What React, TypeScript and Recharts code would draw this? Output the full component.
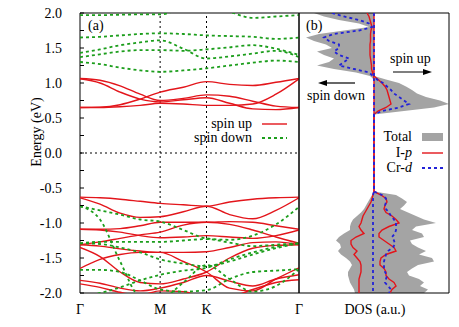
import React from "react";
import {
  LineChart,
  Line,
  ComposedChart,
  Area,
  XAxis,
  YAxis,
  ReferenceLine,
  ReferenceArea,
} from "recharts";

const FONT = "Liberation Serif, DejaVu Serif, Times New Roman, serif";
const RED = "#e3151b";
const GREEN = "#1c9e1c";
const BLUE = "#2222d8";
const GRAY = "#a4a4a4";

// k-path Γ–M–K–Γ (hexagonal zone, Γ-M = 1/√3, M-K = 1/3, K-Γ = 2/3)
const kPoints = [0, 0.144, 0.289, 0.433, 0.577, 0.744, 0.911, 1.077, 1.244, 1.411, 1.577];
const kTicks = [0, 0.577, 0.911, 1.577];
const kLabels = ["Γ", "M", "K", "Γ"];
const energyTicks = [-2, -1.75, -1.5, -1.25, -1, -0.75, -0.5, -0.25, 0, 0.25, 0.5, 0.75, 1, 1.25, 1.5, 1.75, 2];

// spin up bands (eV)
const upC1 = [0.65, 0.655, 0.69, 0.77, 0.87, 0.94, 1.02, 0.98, 0.965, 1.01, 1.065];
const upC2 = [1.065, 1.04, 0.96, 0.84, 0.75, 0.78, 0.83, 0.81, 0.74, 0.67, 0.65];
const upC3 = [1.06, 1.0, 0.87, 0.77, 0.73, 0.76, 0.79, 0.71, 0.63, 0.62, 0.65];
const upC4 = [0.65, 0.65, 0.66, 0.68, 0.71, 0.7, 0.68, 0.68, 0.7, 0.84, 1.06];
const upV1 = [-0.63, -0.64, -0.66, -0.69, -0.72, -0.74, -0.76, -0.7, -0.66, -0.64, -0.63];
const upV2 = [-0.64, -0.73, -0.86, -0.92, -0.91, -0.84, -0.76, -0.88, -0.94, -0.82, -0.64];
const upV3 = [-1.09, -1.09, -1.08, -1.04, -0.99, -0.99, -0.99, -0.98, -0.99, -1.04, -1.09];
const upV4 = [-1.09, -1.1, -1.13, -1.18, -1.21, -1.2, -1.18, -1.2, -1.22, -1.18, -1.1];
const upV5 = [-1.35, -1.48, -1.7, -1.85, -1.87, -1.8, -1.7, -1.5, -1.36, -1.32, -1.31];
const upV6 = [-1.31, -1.27, -1.22, -1.17, -1.13, -1.03, -0.99, -1.02, -1.1, -1.2, -1.29];
const upV7 = [-1.65, -1.52, -1.45, -1.42, -1.42, -1.55, -1.7, -1.93, -1.97, -1.8, -1.64];
const upV8 = [-1.82, -1.86, -1.93, -1.97, -1.93, -1.85, -1.75, -1.83, -1.9, -1.8, -1.74];
const upV9 = [-1.87, -1.92, -1.99, -2.03, -1.97, -1.98, -2.06, -2.05, -1.95, -1.85, -1.81];
const upV10 = [-1.31, -1.33, -1.37, -1.4, -1.42, -1.42, -1.41, -1.35, -1.28, -1.27, -1.31];

// spin down bands (eV)
const dnC1 = [1.3, 1.27, 1.22, 1.18, 1.16, 1.18, 1.21, 1.25, 1.29, 1.32, 1.3];
const dnC2 = [1.37, 1.41, 1.45, 1.47, 1.47, 1.46, 1.48, 1.51, 1.54, 1.49, 1.4];
const dnC3 = [1.43, 1.48, 1.54, 1.58, 1.61, 1.49, 1.35, 1.38, 1.42, 1.46, 1.37];
const dnC4 = [1.65, 1.66, 1.68, 1.7, 1.71, 1.7, 1.68, 1.67, 1.66, 1.63, 1.65];
const dnC5 = [1.97, 1.97, 1.975, 1.98, 1.98, 2.08, 2.15, 2.02, 1.93, 1.95, 1.97];
const dnV1 = [-0.76, -0.82, -0.88, -0.95, -0.98, -1.1, -1.22, -1.24, -1.18, -1.02, -0.77];
const dnV2 = [-0.76, -0.95, -1.55, -2.05, -2.08, -1.85, -1.6, -1.8, -1.98, -1.9, -1.66];
const dnV3 = [-1.29, -1.3, -1.35, -1.42, -1.52, -1.58, -1.62, -1.55, -1.45, -1.36, -1.29];
const dnV4 = [-1.29, -1.27, -1.27, -1.27, -1.27, -1.25, -1.23, -1.28, -1.33, -1.31, -1.29];
const dnV5 = [-1.67, -1.67, -1.7, -1.82, -1.95, -1.98, -1.96, -1.8, -1.7, -1.68, -1.66];
const dnV6 = [-2.05, -2.0, -1.92, -1.82, -1.74, -1.68, -1.64, -1.52, -1.42, -1.34, -1.29];

const upBands = [upC1, upC2, upC3, upC4, upV1, upV2, upV3, upV4, upV5, upV6, upV7, upV8, upV9, upV10];
const dnBands = [dnC1, dnC2, dnC3, dnC4, dnC5, dnV1, dnV2, dnV3, dnV4, dnV5, dnV6];

// DOS grid, 2.0 eV down to -2.0 eV
const dosEnergy = [
  2.0, 1.95, 1.9, 1.85, 1.8, 1.75, 1.7, 1.65, 1.6, 1.55,
  1.5, 1.45, 1.4, 1.35, 1.3, 1.25, 1.2, 1.15, 1.1, 1.05,
  1.0, 0.95, 0.9, 0.85, 0.8, 0.75, 0.7, 0.65, 0.6, 0.55,
  0.5, 0.45, 0.4, 0.35, 0.3, 0.25, 0.2, 0.15, 0.1, 0.05,
  0.0, -0.05, -0.1, -0.15, -0.2, -0.25, -0.3, -0.35, -0.4, -0.45,
  -0.5, -0.55, -0.6, -0.65, -0.7, -0.75, -0.8, -0.85, -0.9, -0.95,
  -1.0, -1.05, -1.1, -1.15, -1.2, -1.25, -1.3, -1.35, -1.4, -1.45,
  -1.5, -1.55, -1.6, -1.65, -1.7, -1.75, -1.8, -1.85, -1.9, -1.95,
  -2.0,
];
const totalUp = [
  0, 0, 0, 0, 0, 0, 0, 0, 0, 0,
  0, 0, 0, 0, 0, 0, 0, 0, 0, 12,
  25, 32, 38, 43, 52, 66, 75, 60, 30, 0,
  0, 0, 0, 0, 0, 0, 0, 0, 0, 0,
  0, 0, 0, 0, 0, 0, 0, 0, 0, 0,
  0, 0, 22, 28, 33, 30, 26, 34, 42, 50,
  62, 42, 38, 48, 50, 36, 38, 44, 52, 45,
  58, 60, 44, 38, 33, 35, 45, 50, 46, 54,
  50,
];
const totalDown = [
  -60, -50, -35, -15, -5, -30, -55, -68, -60, -48,
  -42, -57, -50, -40, -45, -57, -40, -18, -4, 0,
  0, 0, 0, 0, 0, 0, 0, 0, 0, 0,
  0, 0, 0, 0, 0, 0, 0, 0, 0, 0,
  0, 0, 0, 0, 0, 0, 0, 0, 0, 0,
  0, 0, -2, -4, -6, -8, -10, -13, -17, -21,
  -23, -24, -24, -30, -35, -38, -34, -33, -36, -33,
  -28, -24, -22, -24, -26, -26, -25, -24, -22, -20,
  -19,
];
const ipUp = [
  0, 0, 0, 0, 0, 0, 0, 0, 0, 0,
  0, 0, 0, 0, 0, 0, 0, 0, 0, 4,
  8, 11, 13, 14, 15, 16, 17, 12, 4, 0,
  0, 0, 0, 0, 0, 0, 0, 0, 0, 0,
  0, 0, 0, 0, 0, 0, 0, 0, 0, 0,
  0, 0, 7, 12, 13, 11, 10, 12, 18, 22,
  25, 15, 8, 5, 5, 10, 15, 20, 22, 12,
  7, 6, 6, 10, 12, 12, 15, 20, 22, 18,
  16,
];
const ipDown = [
  -7, -5, -4, -3, -2, -3, -3.5, -3.5, -3.5, -4,
  -4, -4, -4, -3.5, -3, -2.5, -2.5, -1.5, -0.5, 0,
  0, 0, 0, 0, 0, 0, 0, 0, 0, 0,
  0, 0, 0, 0, 0, 0, 0, 0, 0, 0,
  0, 0, 0, 0, 0, 0, 0, 0, 0, 0,
  0, 0, -1, -2, -3, -5, -7, -9, -11, -12,
  -13, -15, -13, -10, -18, -23, -23, -21, -17, -20,
  -17, -14, -13, -13, -13, -14, -15, -15, -15, -15,
  -15,
];
const crdUp = [
  0, 0, 0, 0, 0, 0, 0, 0, 0, 0,
  0, 0, 0, 0, 0, 0, 0, 0, 0, 3,
  9, 13, 17, 20, 25, 30, 35, 25, 8, 0,
  0, 0, 0, 0, 0, 0, 0, 0, 0, 0,
  0, 0, 0, 0, 0, 0, 0, 0, 0, 0,
  0, 0, 8, 12, 12, 11, 12, 15, 17, 20,
  22, 22, 22, 21, 18, 20, 21, 19, 14, 12,
  11, 10, 10, 10, 11, 13, 12, 11, 14, 17,
  15,
];
const crdDown = [
  -42, -30, -15, -5, -2, -15, -40, -50, -45, -35,
  -35, -40, -35, -25, -30, -35, -20, -5, -1, 0,
  0, 0, 0, 0, 0, 0, 0, 0, 0, 0,
  0, 0, 0, 0, 0, 0, 0, 0, 0, 0,
  0, 0, 0, 0, 0, 0, 0, 0, 0, 0,
  0, 0, -1, -1, -1, -1, -1, -1, -1, -1,
  -1, -1, -1, -1, -1, -1, -1, -1, -1, -1,
  -1, -1, -1, -1, -1, -1, -1, -1, -1, -1,
  -1,
];

const bandRows = kPoints.map((k, i) => {
  const row: Record<string, number> = { k };
  upBands.forEach((b, j) => (row[`u${j}`] = b[i]));
  dnBands.forEach((b, j) => (row[`d${j}`] = b[i]));
  return row;
});

const dosRows = dosEnergy.map((e, i) => ({
  e,
  totUp: totalUp[i],
  totDn: totalDown[i],
  ipUp: ipUp[i],
  ipDn: ipDown[i],
  crdUp: crdUp[i],
  crdDn: crdDown[i],
}));

const tickStyle = { fill: "#000", fontSize: 14, fontFamily: FONT };
const fmtE = (v: number) => (Math.round(v * 4) % 2 === 0 ? v.toFixed(1) : "");

function BandPanel() {
  return (
    <LineChart
      width={320}
      height={327}
      data={bandRows}
      margin={{ top: 13, right: 20, bottom: 14, left: 0 }}
      style={{ position: "absolute", left: 0, top: 0 }}
    >
      <XAxis
        dataKey="k"
        type="number"
        domain={[0, 1.577]}
        allowDataOverflow
        ticks={kTicks}
        interval={0}
        tickFormatter={(v) => kLabels[kTicks.indexOf(v)]}
        axisLine={false}
        tickLine={false}
        tickSize={0}
        tickMargin={11}
        height={20}
        tick={tickStyle}
      />
      <YAxis
        type="number"
        domain={[-2, 2]}
        allowDataOverflow
        ticks={energyTicks}
        interval={0}
        tickFormatter={fmtE}
        width={80}
        axisLine={false}
        tickSize={-4}
        tickMargin={22}
        tickLine={{ stroke: "#000" }}
        tick={tickStyle}
      />
      <YAxis
        yAxisId="r"
        orientation="right"
        type="number"
        domain={[-2, 2]}
        allowDataOverflow
        ticks={energyTicks}
        interval={0}
        width={1}
        axisLine={false}
        tick={false}
        tickSize={-4}
        tickLine={{ stroke: "#000" }}
      />
      <ReferenceLine x={0.577} stroke="#000" strokeDasharray="2 3" />
      <ReferenceLine x={0.911} stroke="#000" strokeDasharray="2 3" />
      <ReferenceLine y={0} stroke="#000" strokeDasharray="2 3" />
      {upBands.map((_, j) => (
        <Line
          key={`u${j}`}
          dataKey={`u${j}`}
          type="monotone"
          stroke={RED}
          strokeWidth={1.4}
          dot={false}
          isAnimationActive={false}
        />
      ))}
      {dnBands.map((_, j) => (
        <Line
          key={`d${j}`}
          dataKey={`d${j}`}
          type="monotone"
          stroke={GREEN}
          strokeWidth={1.8}
          strokeDasharray="3 3"
          dot={false}
          isAnimationActive={false}
        />
      ))}
      <ReferenceArea x1={0} x2={1.577} y1={-2} y2={2} fill="none" stroke="#000" ifOverflow="visible" />
    </LineChart>
  );
}

function DosPanel() {
  return (
    <ComposedChart
      layout="vertical"
      width={160}
      height={327}
      data={dosRows}
      margin={{ top: 13, right: 8, bottom: 34, left: 0 }}
      style={{ position: "absolute", left: 298, top: 0 }}
    >
      <XAxis type="number" domain={[-75, 75]} allowDataOverflow hide />
      <YAxis
        dataKey="e"
        type="number"
        reversed
        domain={[-2, 2]}
        allowDataOverflow
        ticks={energyTicks}
        interval={0}
        width={1}
        axisLine={false}
        tick={false}
        tickSize={-4}
        tickLine={{ stroke: "#000" }}
      />
      <YAxis
        yAxisId="r"
        orientation="right"
        type="number"
        reversed
        domain={[-2, 2]}
        allowDataOverflow
        ticks={energyTicks}
        interval={0}
        width={1}
        axisLine={false}
        tick={false}
        tickSize={-4}
        tickLine={{ stroke: "#000" }}
      />
      <Area dataKey="totUp" type="linear" fill={GRAY} fillOpacity={1} stroke="none" isAnimationActive={false} />
      <Area dataKey="totDn" type="linear" fill={GRAY} fillOpacity={1} stroke="none" isAnimationActive={false} />
      <Line dataKey="ipDn" type="linear" stroke={RED} strokeWidth={1.4} dot={false} isAnimationActive={false} />
      <Line dataKey="ipUp" type="linear" stroke={RED} strokeWidth={1.4} dot={false} isAnimationActive={false} />
      <Line dataKey="crdDn" type="linear" stroke={BLUE} strokeWidth={1.8} strokeDasharray="3 3" dot={false} isAnimationActive={false} />
      <Line dataKey="crdUp" type="linear" stroke={BLUE} strokeWidth={1.8} strokeDasharray="3 3" dot={false} isAnimationActive={false} />
      <ReferenceArea x1={-75} x2={75} y1={-2} y2={2} fill="none" stroke="#000" ifOverflow="visible" />
    </ComposedChart>
  );
}

function Arrow({ x1, x2, y }: { x1: number; x2: number; y: number }) {
  const dir = x2 > x1 ? 1 : -1;
  return (
    <g>
      <line x1={x1} y1={y} x2={x2 - dir * 6} y2={y} stroke="#000" strokeWidth={1.2} />
      <polygon points={`${x2},${y} ${x2 - dir * 9},${y - 3} ${x2 - dir * 9},${y + 3}`} fill="#000" />
    </g>
  );
}

export default function App() {
  return (
    <div
      style={{
        position: "fixed",
        left: 0,
        top: 0,
        width: 459,
        height: 327,
        background: "#fff",
        fontFamily: FONT,
      }}
    >
      <BandPanel />
      <DosPanel />
      <svg
        width={459}
        height={327}
        style={{ position: "absolute", left: 0, top: 0, pointerEvents: "none", fontFamily: FONT }}
        fontSize={14}
      >
        <text x={36} y={132} transform="rotate(-90 36 132)" textAnchor="middle" dominantBaseline="central">
          Energy (eV)
        </text>
        <text x={88} y={30}>(a)</text>
        <text x={306} y={30}>(b)</text>

        <text x={252} y={128} textAnchor="end">spin up</text>
        <line x1={262} y1={124} x2={287} y2={124} stroke={RED} strokeWidth={1.4} />
        <text x={252} y={142} textAnchor="end">spin down</text>
        <line x1={262} y1={138} x2={287} y2={138} stroke={GREEN} strokeWidth={1.8} strokeDasharray="3 3" />

        <text x={390} y={63}>spin up</text>
        <Arrow x1={393} x2={432} y={72} />
        <text x={307} y={100}>spin down</text>
        <Arrow x1={355} x2={318} y={83} />

        <text x={412} y={141} textAnchor="end">Total</text>
        <rect x={422} y={133} width={21} height={8} fill={GRAY} />
        <text x={412} y={157} textAnchor="end">
          I-<tspan fontStyle="italic">p</tspan>
        </text>
        <line x1={422} y1={153} x2={443} y2={153} stroke={RED} strokeWidth={1.4} />
        <text x={412} y={172} textAnchor="end">
          Cr-<tspan fontStyle="italic">d</tspan>
        </text>
        <line x1={422} y1={168} x2={443} y2={168} stroke={BLUE} strokeWidth={1.8} strokeDasharray="3 3" />

        <text x={375} y={314} textAnchor="middle">DOS (a.u.)</text>
      </svg>
    </div>
  );
}
